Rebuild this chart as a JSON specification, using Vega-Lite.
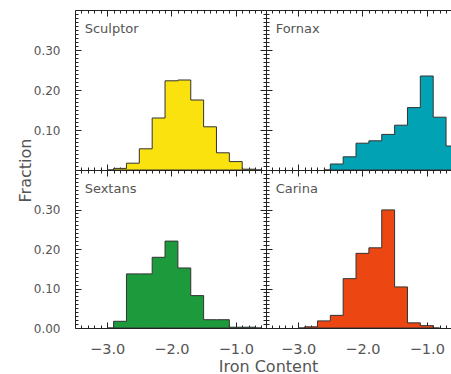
{
  "$schema": "https://vega.github.io/schema/vega-lite/v6.json",
  "padding": {"left": 17, "top": 8, "right": 0, "bottom": 0},
  "datasets": {
    "hist": [
      {"galaxy": "Sculptor", "feh": -3.0, "frac": 0},
      {"galaxy": "Sculptor", "feh": -2.8, "frac": 0.004},
      {"galaxy": "Sculptor", "feh": -2.6, "frac": 0.017},
      {"galaxy": "Sculptor", "feh": -2.4, "frac": 0.053},
      {"galaxy": "Sculptor", "feh": -2.2, "frac": 0.13},
      {"galaxy": "Sculptor", "feh": -2.0, "frac": 0.223},
      {"galaxy": "Sculptor", "feh": -1.8, "frac": 0.225},
      {"galaxy": "Sculptor", "feh": -1.6, "frac": 0.175},
      {"galaxy": "Sculptor", "feh": -1.4, "frac": 0.108},
      {"galaxy": "Sculptor", "feh": -1.2, "frac": 0.043},
      {"galaxy": "Sculptor", "feh": -1.0, "frac": 0.021},
      {"galaxy": "Sculptor", "feh": -0.8, "frac": 0.002},
      {"galaxy": "Sculptor", "feh": -0.6, "frac": 0},
      {"galaxy": "Fornax", "feh": -2.6, "frac": 0},
      {"galaxy": "Fornax", "feh": -2.4, "frac": 0.015},
      {"galaxy": "Fornax", "feh": -2.2, "frac": 0.033},
      {"galaxy": "Fornax", "feh": -2.0, "frac": 0.067},
      {"galaxy": "Fornax", "feh": -1.8, "frac": 0.073},
      {"galaxy": "Fornax", "feh": -1.6, "frac": 0.089},
      {"galaxy": "Fornax", "feh": -1.4, "frac": 0.112},
      {"galaxy": "Fornax", "feh": -1.2, "frac": 0.156},
      {"galaxy": "Fornax", "feh": -1.0, "frac": 0.235},
      {"galaxy": "Fornax", "feh": -0.8, "frac": 0.132},
      {"galaxy": "Fornax", "feh": -0.6, "frac": 0.06},
      {"galaxy": "Sextans", "feh": -3.0, "frac": 0},
      {"galaxy": "Sextans", "feh": -2.8, "frac": 0.017},
      {"galaxy": "Sextans", "feh": -2.6, "frac": 0.137},
      {"galaxy": "Sextans", "feh": -2.4, "frac": 0.137},
      {"galaxy": "Sextans", "feh": -2.2, "frac": 0.179},
      {"galaxy": "Sextans", "feh": -2.0, "frac": 0.22},
      {"galaxy": "Sextans", "feh": -1.8, "frac": 0.152},
      {"galaxy": "Sextans", "feh": -1.6, "frac": 0.082},
      {"galaxy": "Sextans", "feh": -1.4, "frac": 0.021},
      {"galaxy": "Sextans", "feh": -1.2, "frac": 0.021},
      {"galaxy": "Sextans", "feh": -1.0, "frac": 0.002},
      {"galaxy": "Sextans", "feh": -0.8, "frac": 0.002},
      {"galaxy": "Sextans", "feh": -0.6, "frac": 0},
      {"galaxy": "Carina", "feh": -3.0, "frac": 0},
      {"galaxy": "Carina", "feh": -2.8, "frac": 0.003},
      {"galaxy": "Carina", "feh": -2.6, "frac": 0.018},
      {"galaxy": "Carina", "feh": -2.4, "frac": 0.032},
      {"galaxy": "Carina", "feh": -2.2, "frac": 0.125},
      {"galaxy": "Carina", "feh": -2.0, "frac": 0.189},
      {"galaxy": "Carina", "feh": -1.8, "frac": 0.203},
      {"galaxy": "Carina", "feh": -1.6, "frac": 0.299},
      {"galaxy": "Carina", "feh": -1.4, "frac": 0.104},
      {"galaxy": "Carina", "feh": -1.2, "frac": 0.013},
      {"galaxy": "Carina", "feh": -1.0, "frac": 0.006},
      {"galaxy": "Carina", "feh": -0.8, "frac": 0}
    ]
  },
  "columns": 2,
  "spacing": 0,
  "bounds": "flush",
  "concat": [
    {
      "width": 191, "height": 160,
      "layer": [
        {
          "data": {"name": "hist"},
          "transform": [{"filter": "datum.galaxy === 'Sculptor'"}],
          "mark": {"type": "area", "interpolate": "step", "fill": "#F9E20E", "stroke": "#333333", "strokeWidth": 1, "clip": true},
          "encoding": {
            "x": {"field": "feh", "type": "quantitative", "scale": {"domain": [-3.5, -0.53], "nice": false, "zero": false},
              "axis": {"orient": "bottom", "values": [-3.4,-3.3,-3.2,-3.1,-3,-2.9,-2.8,-2.7,-2.6,-2.5,-2.4,-2.3,-2.2,-2.1,-2,-1.9,-1.8,-1.7,-1.6,-1.5,-1.4,-1.3,-1.2,-1.1,-1,-0.9,-0.8,-0.7,-0.6], "labels": false, "title": null,
                "tickSize": {"condition": {"test": "abs(datum.value-round(datum.value))<0.001", "value": -6}, "value": -3}}},
            "y": {"field": "frac", "type": "quantitative", "scale": {"domain": [0, 0.4], "nice": false},
              "axis": {"orient": "left", "values": [0,0.01,0.02,0.03,0.04,0.05,0.06,0.07,0.08,0.09,0.1,0.11,0.12,0.13,0.14,0.15,0.16,0.17,0.18,0.19,0.2,0.21,0.22,0.23,0.24,0.25,0.26,0.27,0.28,0.29,0.3,0.31,0.32,0.33,0.34,0.35,0.36,0.37,0.38,0.39],
                "labelExpr": "abs(datum.value*10-round(datum.value*10))<0.001 && datum.value>0.05 ? format(datum.value,'.2f') : ''",
                "tickSize": {"condition": {"test": "abs(datum.value*10-round(datum.value*10))<0.001", "value": -6}, "value": -3},
                "labelPadding": 21, "labelFontSize": 12, "labelBaseline": "middle",
                "title": "Fraction", "titleX": -45, "titleY": 160, "titleAngle": 270, "titleBaseline": "alphabetic", "titleAlign": "center", "titleFontSize": 16}}
          }
        },
        {
          "data": {"values": [{"galaxy": "Sculptor"}]},
          "mark": {"type": "text", "align": "left", "baseline": "alphabetic", "fontSize": 13, "color": "#555555"},
          "encoding": {
            "x": {"datum": -3.35, "type": "quantitative", "scale": {"domain": [-3.5, -0.53], "nice": false, "zero": false},
              "axis": {"orient": "top", "values": [-3.4,-3.3,-3.2,-3.1,-3,-2.9,-2.8,-2.7,-2.6,-2.5,-2.4,-2.3,-2.2,-2.1,-2,-1.9,-1.8,-1.7,-1.6,-1.5,-1.4,-1.3,-1.2,-1.1,-1,-0.9,-0.8,-0.7,-0.6], "labels": false, "title": null,
                "tickSize": {"condition": {"test": "abs(datum.value-round(datum.value))<0.001", "value": -6}, "value": -3}}},
            "y": {"datum": 0.342, "type": "quantitative", "scale": {"domain": [0, 0.4], "nice": false},
              "axis": {"orient": "right", "values": [0,0.01,0.02,0.03,0.04,0.05,0.06,0.07,0.08,0.09,0.1,0.11,0.12,0.13,0.14,0.15,0.16,0.17,0.18,0.19,0.2,0.21,0.22,0.23,0.24,0.25,0.26,0.27,0.28,0.29,0.3,0.31,0.32,0.33,0.34,0.35,0.36,0.37,0.38,0.39], "labels": false, "title": null,
                "tickSize": {"condition": {"test": "abs(datum.value*10-round(datum.value*10))<0.001", "value": -6}, "value": -3}}},
            "text": {"field": "galaxy"}
          }
        }
      ],
      "resolve": {"axis": {"x": "independent", "y": "independent"}}
    },
    {
      "width": 185, "height": 160,
      "layer": [
        {
          "data": {"name": "hist"},
          "transform": [{"filter": "datum.galaxy === 'Fornax'"}],
          "mark": {"type": "area", "interpolate": "step", "fill": "#00A2B3", "stroke": "#333333", "strokeWidth": 1, "clip": true},
          "encoding": {
            "x": {"field": "feh", "type": "quantitative", "scale": {"domain": [-3.5, -0.623], "nice": false, "zero": false},
              "axis": {"orient": "bottom", "values": [-3.4,-3.3,-3.2,-3.1,-3,-2.9,-2.8,-2.7,-2.6,-2.5,-2.4,-2.3,-2.2,-2.1,-2,-1.9,-1.8,-1.7,-1.6,-1.5,-1.4,-1.3,-1.2,-1.1,-1,-0.9,-0.8,-0.7], "labels": false, "title": null,
                "tickSize": {"condition": {"test": "abs(datum.value-round(datum.value))<0.001", "value": -6}, "value": -3}}},
            "y": {"field": "frac", "type": "quantitative", "scale": {"domain": [0, 0.4], "nice": false},
              "axis": {"orient": "left", "values": [0,0.01,0.02,0.03,0.04,0.05,0.06,0.07,0.08,0.09,0.1,0.11,0.12,0.13,0.14,0.15,0.16,0.17,0.18,0.19,0.2,0.21,0.22,0.23,0.24,0.25,0.26,0.27,0.28,0.29,0.3,0.31,0.32,0.33,0.34,0.35,0.36,0.37,0.38,0.39], "labels": false, "title": null,
                "tickSize": {"condition": {"test": "abs(datum.value*10-round(datum.value*10))<0.001", "value": -6}, "value": -3}}}
          }
        },
        {
          "data": {"values": [{"galaxy": "Fornax"}]},
          "mark": {"type": "text", "align": "left", "baseline": "alphabetic", "fontSize": 13, "color": "#555555"},
          "encoding": {
            "x": {"datum": -3.35, "type": "quantitative", "scale": {"domain": [-3.5, -0.623], "nice": false, "zero": false},
              "axis": {"orient": "top", "values": [-3.4,-3.3,-3.2,-3.1,-3,-2.9,-2.8,-2.7,-2.6,-2.5,-2.4,-2.3,-2.2,-2.1,-2,-1.9,-1.8,-1.7,-1.6,-1.5,-1.4,-1.3,-1.2,-1.1,-1,-0.9,-0.8,-0.7], "labels": false, "title": null,
                "tickSize": {"condition": {"test": "abs(datum.value-round(datum.value))<0.001", "value": -6}, "value": -3}}},
            "y": {"datum": 0.342, "type": "quantitative", "scale": {"domain": [0, 0.4], "nice": false}, "axis": null},
            "text": {"field": "galaxy"}
          }
        }
      ],
      "resolve": {"axis": {"x": "independent", "y": "independent"}}
    },
    {
      "width": 191, "height": 158,
      "layer": [
        {
          "data": {"name": "hist"},
          "transform": [{"filter": "datum.galaxy === 'Sextans'"}],
          "mark": {"type": "area", "interpolate": "step", "fill": "#1C9A3C", "stroke": "#333333", "strokeWidth": 1, "clip": true},
          "encoding": {
            "x": {"field": "feh", "type": "quantitative", "scale": {"domain": [-3.5, -0.53], "nice": false, "zero": false},
              "axis": {"orient": "bottom", "values": [-3.4,-3.3,-3.2,-3.1,-3,-2.9,-2.8,-2.7,-2.6,-2.5,-2.4,-2.3,-2.2,-2.1,-2,-1.9,-1.8,-1.7,-1.6,-1.5,-1.4,-1.3,-1.2,-1.1,-1,-0.9,-0.8,-0.7,-0.6],
                "labelExpr": "abs(datum.value-round(datum.value))<0.001 ? format(datum.value,'.1f') : ''",
                "tickSize": {"condition": {"test": "abs(datum.value-round(datum.value))<0.001", "value": -6}, "value": -3},
                "labelPadding": 31.5, "labelBaseline": "alphabetic", "labelFontSize": 14.5,
                "title": "Iron Content", "titleX": 193, "titleY": 43, "titleBaseline": "alphabetic", "titleAlign": "center", "titleFontSize": 16}},
            "y": {"field": "frac", "type": "quantitative", "scale": {"domain": [0, 0.4], "nice": false},
              "axis": {"orient": "left", "values": [0,0.01,0.02,0.03,0.04,0.05,0.06,0.07,0.08,0.09,0.1,0.11,0.12,0.13,0.14,0.15,0.16,0.17,0.18,0.19,0.2,0.21,0.22,0.23,0.24,0.25,0.26,0.27,0.28,0.29,0.3,0.31,0.32,0.33,0.34,0.35,0.36,0.37,0.38,0.39],
                "labelExpr": "abs(datum.value*10-round(datum.value*10))<0.001 ? format(datum.value,'.2f') : ''",
                "tickSize": {"condition": {"test": "abs(datum.value*10-round(datum.value*10))<0.001", "value": -6}, "value": -3},
                "labelPadding": 21, "labelFontSize": 12, "labelBaseline": "middle", "title": null}}
          }
        },
        {
          "data": {"values": [{"galaxy": "Sextans"}]},
          "mark": {"type": "text", "align": "left", "baseline": "alphabetic", "fontSize": 13, "color": "#555555"},
          "encoding": {
            "x": {"datum": -3.35, "type": "quantitative", "scale": {"domain": [-3.5, -0.53], "nice": false, "zero": false},
              "axis": {"orient": "top", "values": [-3.4,-3.3,-3.2,-3.1,-3,-2.9,-2.8,-2.7,-2.6,-2.5,-2.4,-2.3,-2.2,-2.1,-2,-1.9,-1.8,-1.7,-1.6,-1.5,-1.4,-1.3,-1.2,-1.1,-1,-0.9,-0.8,-0.7,-0.6], "labels": false, "title": null,
                "tickSize": {"condition": {"test": "abs(datum.value-round(datum.value))<0.001", "value": -6}, "value": -3}}},
            "y": {"datum": 0.342, "type": "quantitative", "scale": {"domain": [0, 0.4], "nice": false},
              "axis": {"orient": "right", "values": [0,0.01,0.02,0.03,0.04,0.05,0.06,0.07,0.08,0.09,0.1,0.11,0.12,0.13,0.14,0.15,0.16,0.17,0.18,0.19,0.2,0.21,0.22,0.23,0.24,0.25,0.26,0.27,0.28,0.29,0.3,0.31,0.32,0.33,0.34,0.35,0.36,0.37,0.38,0.39], "labels": false, "title": null,
                "tickSize": {"condition": {"test": "abs(datum.value*10-round(datum.value*10))<0.001", "value": -6}, "value": -3}}},
            "text": {"field": "galaxy"}
          }
        }
      ],
      "resolve": {"axis": {"x": "independent", "y": "independent"}}
    },
    {
      "width": 185, "height": 158,
      "layer": [
        {
          "data": {"name": "hist"},
          "transform": [{"filter": "datum.galaxy === 'Carina'"}],
          "mark": {"type": "area", "interpolate": "step", "fill": "#EC4712", "stroke": "#333333", "strokeWidth": 1, "clip": true},
          "encoding": {
            "x": {"field": "feh", "type": "quantitative", "scale": {"domain": [-3.5, -0.623], "nice": false, "zero": false},
              "axis": {"orient": "bottom", "values": [-3.4,-3.3,-3.2,-3.1,-3,-2.9,-2.8,-2.7,-2.6,-2.5,-2.4,-2.3,-2.2,-2.1,-2,-1.9,-1.8,-1.7,-1.6,-1.5,-1.4,-1.3,-1.2,-1.1,-1,-0.9,-0.8,-0.7],
                "labelExpr": "abs(datum.value-round(datum.value))<0.001 ? format(datum.value,'.1f') : ''",
                "tickSize": {"condition": {"test": "abs(datum.value-round(datum.value))<0.001", "value": -6}, "value": -3},
                "labelPadding": 31.5, "labelBaseline": "alphabetic", "labelFontSize": 14.5, "title": null}},
            "y": {"field": "frac", "type": "quantitative", "scale": {"domain": [0, 0.4], "nice": false},
              "axis": {"orient": "left", "values": [0,0.01,0.02,0.03,0.04,0.05,0.06,0.07,0.08,0.09,0.1,0.11,0.12,0.13,0.14,0.15,0.16,0.17,0.18,0.19,0.2,0.21,0.22,0.23,0.24,0.25,0.26,0.27,0.28,0.29,0.3,0.31,0.32,0.33,0.34,0.35,0.36,0.37,0.38,0.39], "labels": false, "title": null,
                "tickSize": {"condition": {"test": "abs(datum.value*10-round(datum.value*10))<0.001", "value": -6}, "value": -3}}}
          }
        },
        {
          "data": {"values": [{"galaxy": "Carina"}]},
          "mark": {"type": "text", "align": "left", "baseline": "alphabetic", "fontSize": 13, "color": "#555555"},
          "encoding": {
            "x": {"datum": -3.35, "type": "quantitative", "scale": {"domain": [-3.5, -0.623], "nice": false, "zero": false},
              "axis": {"orient": "top", "values": [-3.4,-3.3,-3.2,-3.1,-3,-2.9,-2.8,-2.7,-2.6,-2.5,-2.4,-2.3,-2.2,-2.1,-2,-1.9,-1.8,-1.7,-1.6,-1.5,-1.4,-1.3,-1.2,-1.1,-1,-0.9,-0.8,-0.7], "labels": false, "title": null,
                "tickSize": {"condition": {"test": "abs(datum.value-round(datum.value))<0.001", "value": -6}, "value": -3}}},
            "y": {"datum": 0.342, "type": "quantitative", "scale": {"domain": [0, 0.4], "nice": false}, "axis": null},
            "text": {"field": "galaxy"}
          }
        }
      ],
      "resolve": {"axis": {"x": "independent", "y": "independent"}}
    }
  ],
  "config": {
    "font": "DejaVu Sans",
    "view": {"stroke": null},
    "axis": {
      "grid": false,
      "domainColor": "#222222",
      "domainWidth": 1,
      "tickColor": "#222222",
      "tickWidth": 1,
      "labelColor": "#555555",
      "titleColor": "#555555",
      "titleFontWeight": "normal",
      "labelFlush": false,
      "labelOverlap": false,
      "labelBound": false
    }
  }
}
